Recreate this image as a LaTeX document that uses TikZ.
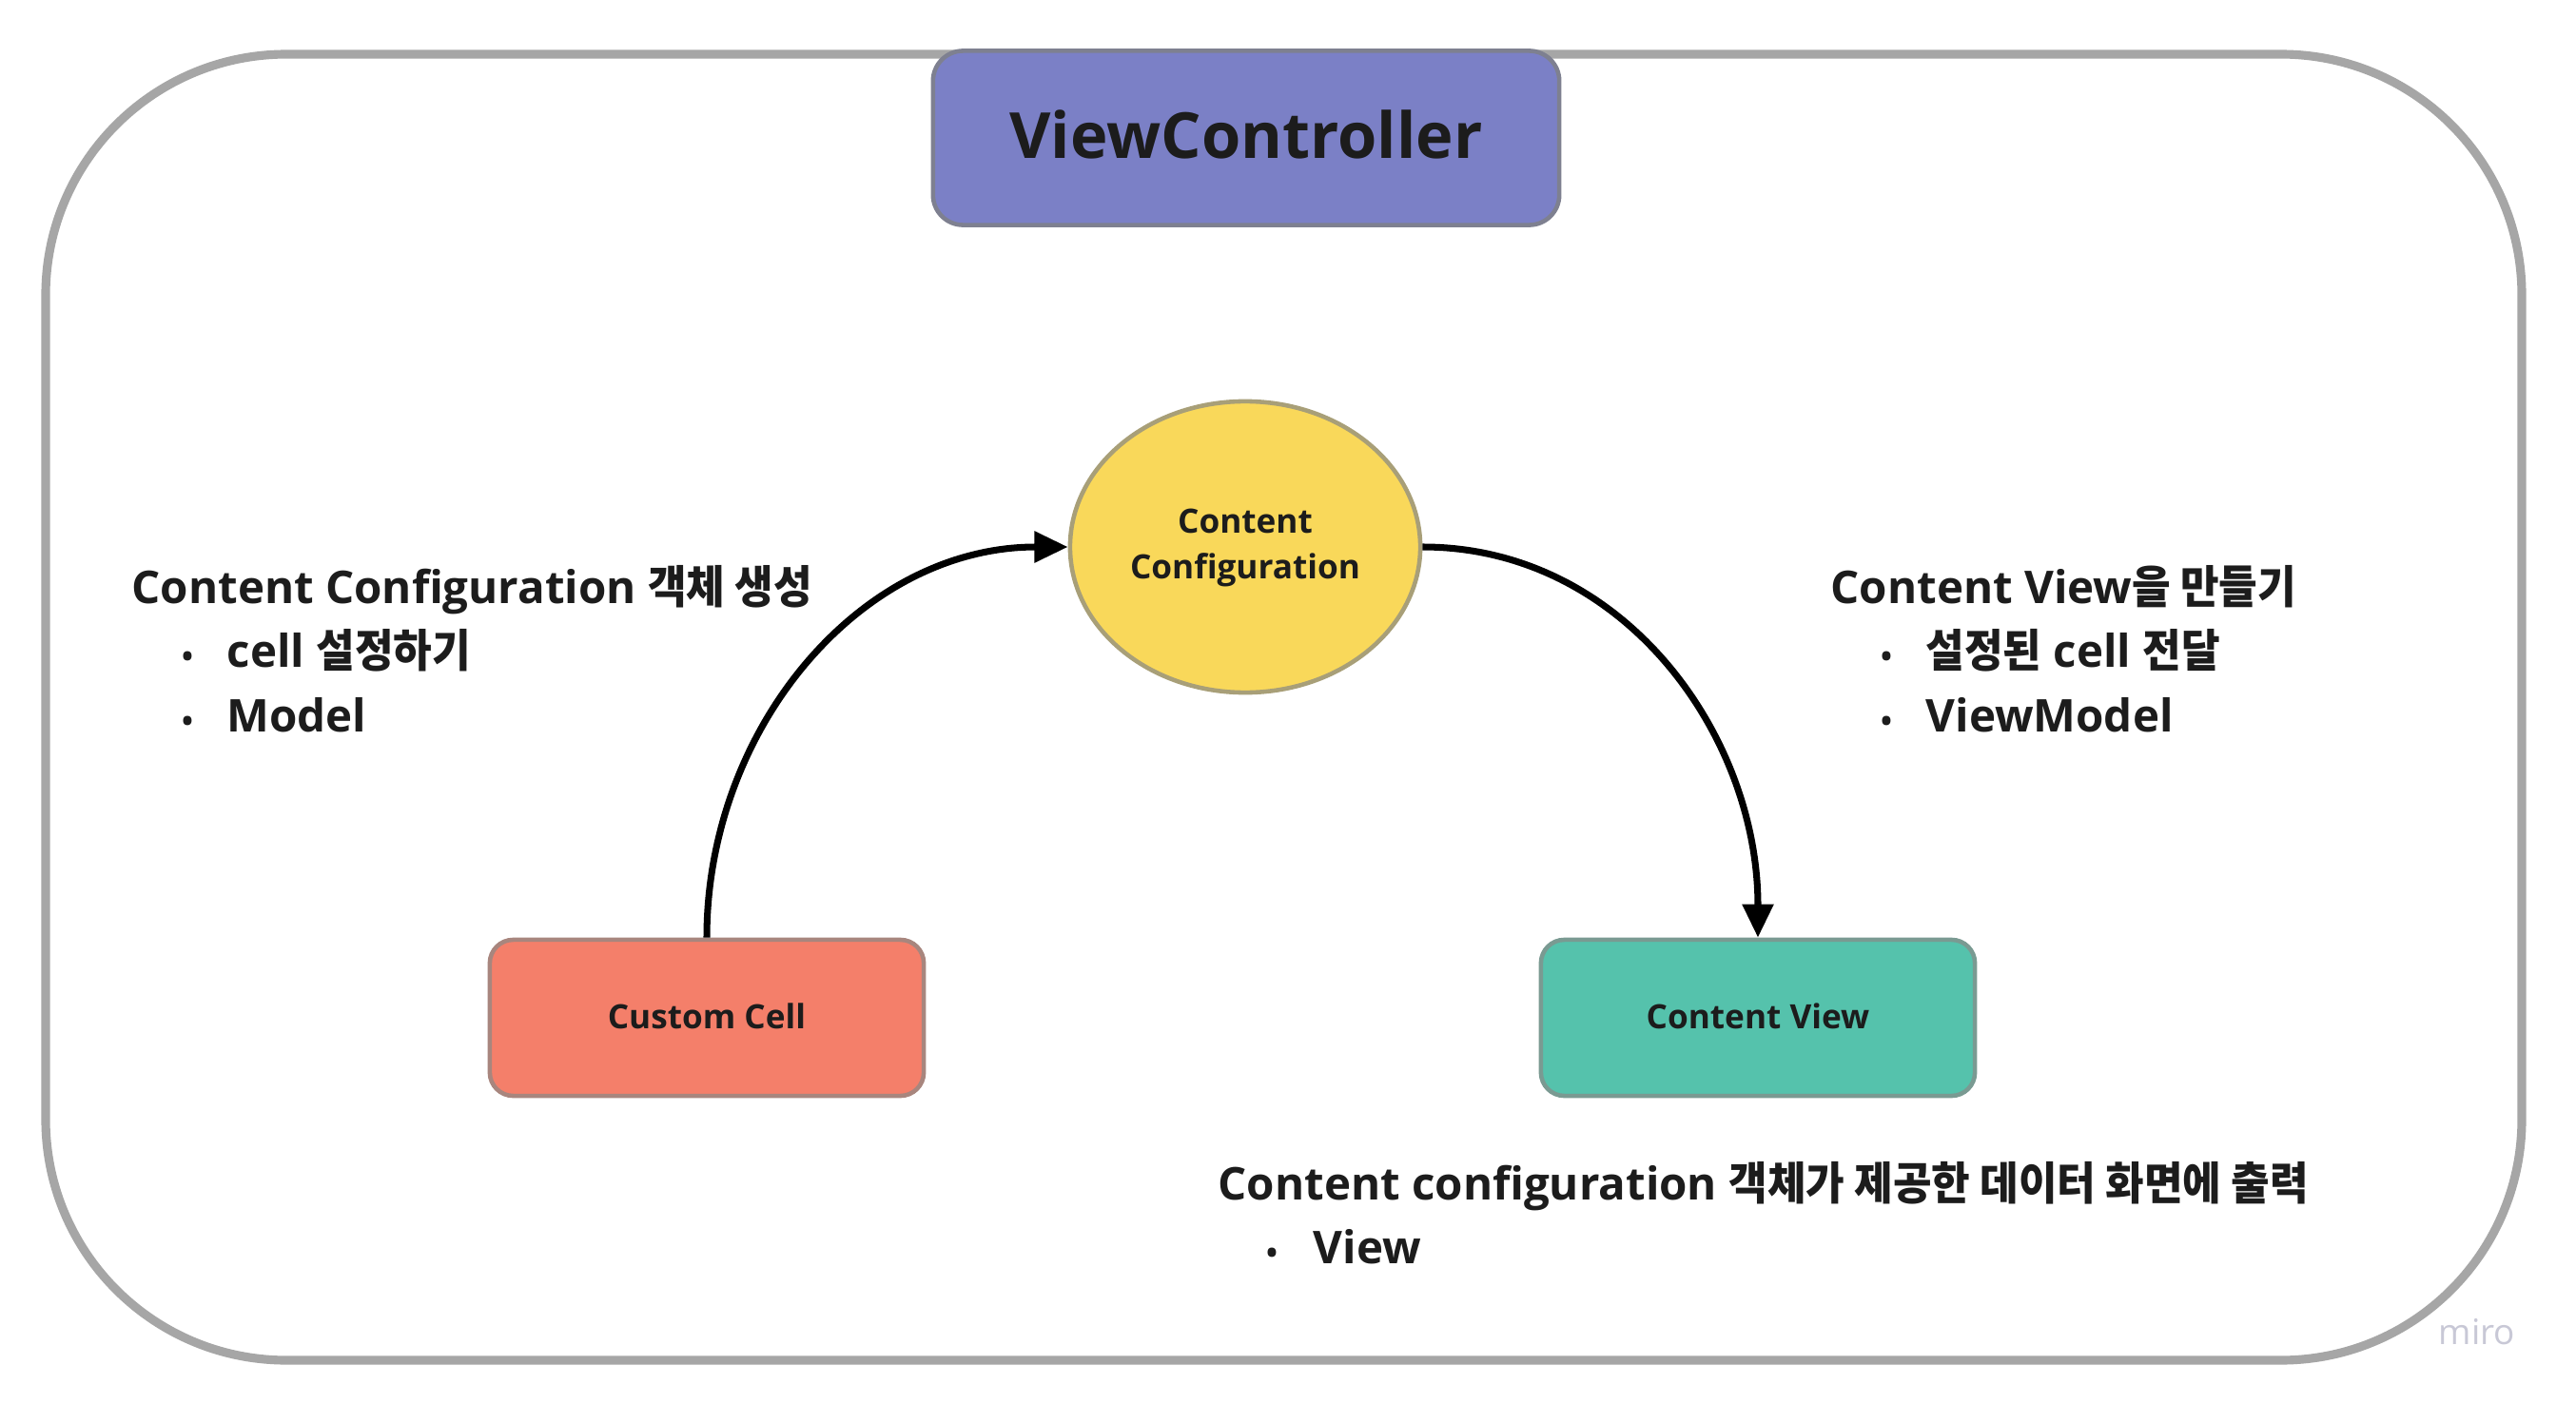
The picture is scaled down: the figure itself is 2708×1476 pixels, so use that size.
\documentclass[tikz,border=0pt]{standalone}
\usepackage{fontspec}
\setmainfont{Open Sans}
\newfontfamily\kr{Noto Sans CJK KR}[FakeStretch=0.93]
\usetikzlibrary{arrows.meta,shapes.geometric}
\definecolor{framegray}{HTML}{A6A6A6}
\definecolor{vcfill}{HTML}{7B80C6}
\definecolor{vcline}{HTML}{7E8090}
\definecolor{cfgfill}{HTML}{F9D85A}
\definecolor{cfgline}{HTML}{A89F78}
\definecolor{ccfill}{HTML}{F47F6A}
\definecolor{ccline}{HTML}{A8867E}
\definecolor{cvfill}{HTML}{55C2AC}
\definecolor{cvline}{HTML}{7A9A92}
\definecolor{ink}{HTML}{1C1C1C}
\definecolor{mirogray}{HTML}{C8C8D6}
\tikzset{
  box/.style={rectangle, rounded corners=7pt, line width=1.3pt, minimum width=4.56cm, minimum height=1.64cm, text=ink, font=\fontsize{10}{12}\selectfont\bfseries},
  heading/.style={anchor=base west, inner sep=0pt, text=ink, font=\fontsize{13.5}{16}\selectfont\bfseries},
  bul/.style={anchor=base, inner sep=0pt, text=ink, font=\fontsize{9}{10}\selectfont\bfseries},
  flow/.style={line width=2pt, -{Triangle[length=10pt,width=9pt]}}
}
\begin{document}
\begin{tikzpicture}[x=0.01cm, y=-0.01cm]
\useasboundingbox (0,0) rectangle (2708,1476);
\fill[white] (0,0) rectangle (2708,1476);
% outer frame
\draw[framegray, line width=2.6pt, rounded corners=72pt] (48,57) rectangle (2651,1430);

\node[box, fill=vcfill, draw=vcline, rounded corners=9pt, minimum width=6.58cm, minimum height=1.83cm, font=\fontsize{19}{22}\selectfont\bfseries] (vc) at (1310,145) {\raisebox{0.7mm}{ViewController}};

\node[ellipse, fill=cfgfill, draw=cfgline, line width=1.3pt, minimum width=3.68cm, minimum height=3.06cm, inner sep=0pt, text=ink, font=\fontsize{10}{13.8}\selectfont\bfseries] (cfg) at (1309,575) {\raisebox{-0.35mm}{\begin{tabular}{@{}c@{}}Content\\Configuration\end{tabular}}};

\node[box, fill=ccfill, draw=ccline] (cc) at (743,1070) {\raisebox{0.35mm}{Custom Cell}};
\node[box, fill=cvfill, draw=cvline] (cv) at (1848,1070) {\raisebox{0.35mm}{Content View}};

\draw[flow] (cc.north) to[out=90, in=180] (cfg.west);
\draw[flow] (cfg.east) to[out=0, in=90] (cv.north);

% left text
\node[heading] (lh) at (138,634) {Content Configuration {\kr 객체 생성}};
\node[bul] (lb1) at (197,701) {•};
\node[heading] (lt1) at (238,701) {cell {\kr 설정하기}};
\node[bul] (lb2) at (197,769) {•};
\node[heading] (lt2) at (238,769) {Model};

% right text
\node[heading] (rh) at (1924,634) {Content View{\kr 을 만들기}};
\node[bul] (rb1) at (1983,701) {•};
\node[heading] (rt1) at (2024,701) {{\kr 설정된} cell {\kr 전달}};
\node[bul] (rb2) at (1983,769) {•};
\node[heading] (rt2) at (2024,769) {ViewModel};

% bottom text
\node[heading] (bh) at (1280,1261) {Content configuration {\kr 객체가 제공한 데이터 화면에 출력}};
\node[bul] (bb1) at (1337,1328) {•};
\node[heading] (bt1) at (1380,1328) {View};

\node[text=mirogray, font=\fontsize{10.5}{12}\selectfont] (miro) at (2604,1400) {miro};
\end{tikzpicture}
\end{document}
